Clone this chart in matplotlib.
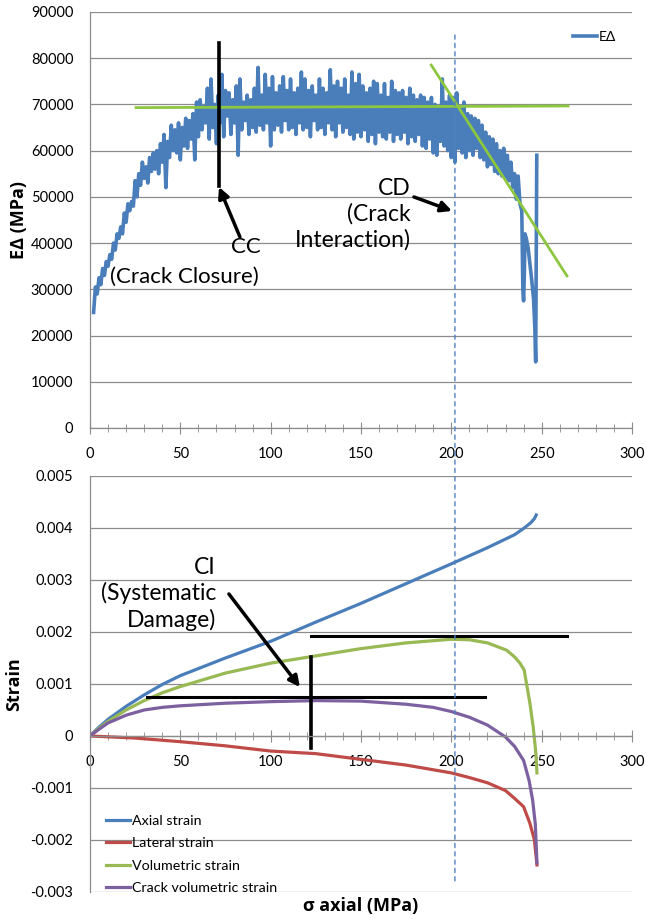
import matplotlib
matplotlib.use('Agg')
import matplotlib.pyplot as plt
from matplotlib.ticker import MultipleLocator
from matplotlib.patches import ConnectionPatch
import numpy as np

plt.rcParams['font.family'] = ['Lato', 'DejaVu Sans']
LABEL_FONT = ['Open Sans', 'DejaVu Sans']

# --- top panel: tangent modulus vs axial stress (values in GPa)
stress_e = list(range(2, 239)) + [239, 239.6, 240.0, 240.4, 240.8, 241.5, 242.5,
                                  243.5, 244.5, 245.5, 246.2, 246.7, 247.0, 247.3]
modulus_k = [
    25.0, 30.5, 29.0, 32.5, 31.0, 34.5, 33.0, 36.0, 35.0, 37.5,
    36.5, 40.0, 38.5, 42.0, 41.0, 43.5, 42.0, 46.5, 44.5, 48.5,
    47.0, 49.0, 48.0, 53.5, 50.0, 55.0, 52.5, 57.5, 54.0, 56.5,
    53.0, 58.5, 55.5, 59.5, 56.0, 60.0, 55.0, 61.5, 57.5, 63.5,
    52.0, 62.0, 58.5, 65.5, 60.0, 64.5, 59.5, 66.0, 58.0, 65.0,
    61.0, 67.0, 60.5, 66.5, 62.5, 68.0, 58.0, 70.5, 63.0, 71.0,
    64.5, 69.5, 66.0, 73.5, 62.5, 75.5, 65.0, 70.0, 61.5, 72.0,
    66.0, 76.5, 63.0, 73.0, 67.5, 72.5, 63.5, 71.0, 66.0, 74.0,
    59.0, 75.5, 64.5, 70.5, 66.5, 72.0, 63.5, 71.0, 65.0, 73.5,
    64.0, 78.0, 65.5, 72.0, 64.5, 76.5, 66.0, 73.5, 61.0, 76.0,
    64.5, 72.5, 65.5, 74.0, 64.0, 76.0, 66.5, 73.0, 64.5, 75.5,
    65.0, 72.5, 63.5, 73.5, 66.0, 77.0, 64.5, 75.5, 65.0, 73.0,
    63.0, 74.0, 66.5, 72.0, 64.5, 75.5, 65.0, 73.5, 63.5, 72.5,
    66.0, 77.5, 64.5, 74.0, 63.0, 75.0, 66.0, 73.5, 64.0, 75.5,
    65.0, 72.0, 63.5, 77.0, 62.5, 74.5, 64.0, 76.5, 63.0, 74.0,
    64.5, 72.5, 62.0, 73.5, 63.5, 75.0, 61.5, 74.5, 64.0, 72.0,
    63.0, 74.5, 62.5, 71.5, 64.0, 75.0, 62.0, 73.0, 63.5, 72.5,
    62.5, 73.0, 64.0, 71.5, 61.5, 73.5, 63.0, 72.0, 62.0, 71.0,
    63.5, 72.0, 61.0, 71.5, 60.5, 70.5, 62.5, 71.5, 59.5, 70.0,
    59.0, 69.5, 62.0, 75.5, 61.0, 70.5, 60.0, 72.0, 58.5, 71.5,
    57.5, 72.5, 60.5, 69.0, 59.5, 70.5, 58.5, 68.0, 60.0, 67.5,
    59.0, 67.0, 60.5, 66.5, 58.5, 65.5, 58.0, 64.0, 56.5, 63.0,
    57.0, 62.5, 55.5, 61.5, 55.0, 60.0, 54.5, 60.5, 54.0, 59.0,
    53.5, 57.5, 52.0, 55.0, 49.5, 54.5, 48.5,
    47.0, 30.0, 27.5, 33.0, 42.0, 41.0, 39.0, 35.5, 32.0, 28.0, 22.0, 14.3, 35.0, 59.0,
]

# fitted lines / markers on the top panel
flat_fit_x = [25.5, 264.6]
flat_fit_y = [69300, 69660]
steep_fit_x = [188.9, 264.0]
steep_fit_y = [78500, 32900]
cc_stress = 71.4
cc_range = [52360, 83300]
cd_stress = 202.0

# --- bottom panel: strains vs axial stress
stress_ax = [0, 5, 10, 20, 30, 40, 50, 75, 100, 125, 150, 175, 200, 220, 235, 240, 244, 246, 247]
axial = [0, 0.00017, 0.00032, 0.00057, 0.00079, 0.00099, 0.00116, 0.00150, 0.00182, 0.00219,
         0.00255, 0.00293, 0.00331, 0.00362, 0.00387, 0.00399, 0.00410, 0.00418, 0.00425]

stress_lat = [0, 25, 50, 75, 100, 125, 150, 175, 200, 210, 220, 230, 235, 240, 243.5, 246, 247.4]
lateral = [0, -0.00004, -0.00011, -0.00019, -0.00029, -0.00034, -0.00045, -0.00056, -0.00071,
           -0.0008, -0.0009, -0.00105, -0.0012, -0.00136, -0.00168, -0.0020, -0.00248]

stress_vol = [0, 5, 10, 20, 30, 40, 50, 75, 100, 125, 150, 175, 200, 210, 220, 230.6, 235, 238,
              240.3, 243.5, 245.3, 246.8, 247.4]
volumetric = [0, 0.00015, 0.00028, 0.0005, 0.00068, 0.00083, 0.00095, 0.00121, 0.00140, 0.00154,
              0.00168, 0.00179, 0.00186, 0.00185, 0.00179, 0.00165, 0.00152, 0.0014,
              0.00127, 0.00063, 0.00018, -0.00033, -0.00071]

stress_cv = [0, 5, 10, 20, 30, 40, 50, 75, 100, 125, 150, 175, 190, 200, 210, 220, 230, 235, 240,
             243, 245, 246.5, 247.4]
crack_vol = [0, 0.00013, 0.00025, 0.0004, 0.0005, 0.00055, 0.00058, 0.00063, 0.00066, 0.00068,
             0.00067, 0.00061, 0.00055, 0.00047, 0.00036, 0.00021, -0.00002, -0.0002, -0.00047,
             -0.00085, -0.00123, -0.0017, -0.00244]

ci_stress = 122.3
ci_range = [-0.00023, 0.00152]
upper_h = ([122.3, 264.0], 0.00193)
lower_h = ([31.5, 218.6], 0.00075)

BLUE = '#4A7EBB'
RED = '#BE4B48'
GREEN = '#98B954'
PURPLE = '#7D60A0'
FIT = '#8DC63F'
GRID = '#8C8C8C'

fig = plt.figure(figsize=(6.46, 9.19), dpi=100)
ax1 = fig.add_axes([0.1393, 0.5343, 0.839, 0.4527])
ax2 = fig.add_axes([0.1393, 0.0294, 0.839, 0.4527])


def style(ax):
    ax.set_xlim(0, 300)
    ax.xaxis.set_major_locator(MultipleLocator(50))
    ax.xaxis.set_minor_locator(MultipleLocator(10))
    ax.grid(axis='y', color=GRID, lw=0.9)
    ax.set_axisbelow(True)
    for s in ['top', 'right']:
        ax.spines[s].set_visible(False)
    for s in ['left', 'bottom']:
        ax.spines[s].set_color(GRID)
        ax.spines[s].set_linewidth(0.9)
    ax.tick_params(axis='y', length=0, pad=12, labelsize=10.5)
    ax.tick_params(axis='x', which='major', direction='inout', length=9, color=GRID,
                   labelsize=10.5, pad=9)
    ax.tick_params(axis='x', which='minor', direction='inout', length=6, color=GRID)


# top panel
style(ax1)
ax1.set_ylim(0, 90000)
ax1.yaxis.set_major_locator(MultipleLocator(10000))
ax1.plot(stress_e, np.array(modulus_k) * 1000, color=BLUE, lw=2.6, label='EΔ')
ax1.plot(flat_fit_x, flat_fit_y, color=FIT, lw=2.0)
ax1.plot(steep_fit_x, steep_fit_y, color=FIT, lw=2.0)
ax1.plot([cc_stress, cc_stress], cc_range, color='black', lw=2.6)
ax1.set_ylabel('EΔ (MPa)', fontsize=13, fontweight='bold', family=LABEL_FONT)
ax1.yaxis.set_label_coords(-0.1144, 0.5)

arrow = dict(arrowstyle='-|>', color='black', lw=2.5, mutation_scale=16, shrinkA=0, shrinkB=0)
ax1.annotate('', xy=(71.4, 52140), xytext=(83.0, 41320), arrowprops=arrow)
ax1.text(86.3, 39160, 'CC', fontsize=16, ha='center', va='center')
ax1.text(52.0, 32670, '(Crack Closure)', fontsize=16, ha='center', va='center')
ax1.annotate('', xy=(200.4, 46950), xytext=(179.3, 49980), arrowprops=arrow)
ax1.text(177.7, 46300, 'CD\n(Crack\nInteraction)', fontsize=16.5, ha='right', va='center',
         multialignment='right', linespacing=1.25)

ax1.legend(loc='upper left', bbox_to_anchor=(0.891, 0.955), frameon=False, fontsize=10,
           handlelength=1.7, handletextpad=0.15, borderpad=0, borderaxespad=0)

# bottom panel
style(ax2)
ax2.set_ylim(-0.003, 0.005)
ax2.yaxis.set_major_locator(MultipleLocator(0.001))
ax2.yaxis.set_major_formatter(plt.FuncFormatter(lambda v, p: '0' if abs(v) < 1e-9 else f'{v:.3f}'))
ax2.spines['bottom'].set_position(('data', 0))
ax2.plot(stress_ax, axial, color=BLUE, lw=2.3, label='Axial strain')
ax2.plot(stress_lat, lateral, color=RED, lw=2.3, label='Lateral strain')
ax2.plot(stress_vol, volumetric, color=GREEN, lw=2.3, label='Volumetric strain')
ax2.plot(stress_cv, crack_vol, color=PURPLE, lw=2.3, label='Crack volumetric strain')

ax2.plot([ci_stress, ci_stress], ci_range, color='black', lw=2.6)
ax2.plot(upper_h[0], [upper_h[1]] * 2, color='black', lw=2.2)
ax2.plot(lower_h[0], [lower_h[1]] * 2, color='black', lw=2.2)
ax2.annotate('', xy=(116.2, 0.00094), xytext=(76.9, 0.00273), arrowprops=arrow)
ax2.text(69.7, 0.00273, 'CI\n(Systematic\nDamage)', fontsize=16.5, ha='right', va='center',
         multialignment='right', linespacing=1.25)

ax2.set_ylabel('Strain', fontsize=13, fontweight='bold', family=LABEL_FONT)
ax2.yaxis.set_label_coords(-0.1236, 0.5)
ax2.set_xlabel('σ axial (MPa)', fontsize=13, fontweight='bold', family=LABEL_FONT)
ax2.xaxis.set_label_coords(0.5, -0.012)

ax2.legend(loc='lower left', bbox_to_anchor=(0.0295, -0.005), frameon=False, fontsize=10.3,
           handlelength=1.7, handletextpad=0.15, labelspacing=0.72, borderpad=0,
           borderaxespad=0)

# dashed marker for CD that runs through both panels
con = ConnectionPatch(xyA=(cd_stress, 85000), coordsA=ax1.transData,
                      xyB=(cd_stress, -0.00281), coordsB=ax2.transData,
                      color='#4F81BD', lw=1.0, linestyle=(0, (3, 3)))
fig.add_artist(con)

fig.savefig('out.png', dpi=100)
